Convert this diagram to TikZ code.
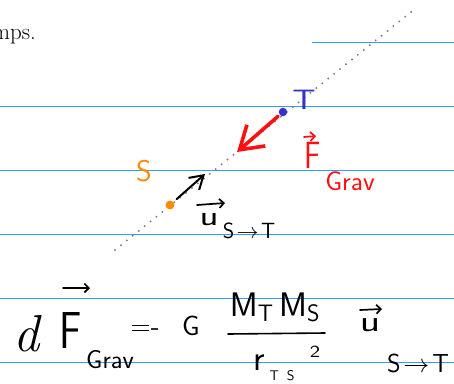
\RequirePackage{fix-cm}
\documentclass[tikz,border=0pt]{standalone}
\usepackage{amsmath}
\usepackage{graphicx}
\usetikzlibrary{arrows.meta}
\definecolor{ruleblue}{HTML}{3399FF}
\definecolor{penblue}{HTML}{3333CC}
\definecolor{penred}{HTML}{FF1010}
\definecolor{penorange}{HTML}{FF8C00}
\definecolor{dotgray}{HTML}{808080}
\newcommand{\fs}[1]{\fontsize{#1}{#1}\selectfont}
\begin{document}
\begin{tikzpicture}[x=1pt,y=-1pt,
  rule/.style={ruleblue, line width=1pt},
  hand/.style={inner sep=0pt, outer sep=0pt, font=\sffamily},
  massdot/.style={circle, inner sep=0pt, minimum size=#1},
  vecbar/.style={line width=1.7pt, line cap=round, line join=round,
    -{Straight Barb[length=4.5pt,width=9pt,line width=1.7pt]}},
]
\useasboundingbox (0,0) rectangle (454,383);
% ruled lines
\foreach \yy in {106,170,234,298,362} \draw[rule] (0,\yy) -- (454,\yy);
\draw[rule] (312,42) -- (454,42);
% clipped text from previous paragraph
\node[anchor=base east, inner sep=0pt, font=\fs{23}] (prev) at (36,39) {mps.};
% dotted line through S and T
\coordinate (dl1) at (115,250);
\coordinate (dl2) at (416,8);
\draw[dotgray, line width=2.2pt, line cap=round, dash pattern=on 0pt off 7.6pt] (dl1) -- (dl2);
% masses
\node[massdot=8.5pt, fill=penblue] (T) at (283,112) {};
\node[massdot=9pt, fill=penorange] (S) at (170,205) {};
\node[hand, text=penblue, font=\sffamily\fs{28}] (Tlab) at (304,100) {\scalebox{1.3}[1]{T}};
\node[hand, text=penorange, font=\sffamily\fs{30}] (Slab) at (144,171) {S};
% force arrow
\coordinate (ftip) at (237,152);
\draw[penred, line width=3.6pt, line cap=round, shorten <=2pt,
  -{Straight Barb[length=22pt,width=28pt,line width=3.6pt]}] (T) -- (ftip);
\node[hand, text=penred, anchor=base, font=\sffamily\fs{38}] (Flab) at (313,168) {\scalebox{0.8}[1]{F}};
\draw[penred, vecbar] ([xshift=-9pt,yshift=31pt]Flab.base) -- ([xshift=3pt,yshift=32pt]Flab.base);
\node[hand, text=penred, font=\sffamily\fs{27}] (Gravlab) at (350,181) {Grav};
% unit vector arrow
\coordinate (utip) at (205,174);
\draw[black, line width=2pt, line cap=round, shorten <=4pt,
  -{Straight Barb[length=13pt,width=16pt,line width=2pt]}] (S) -- (utip);
\node[hand, anchor=base, font=\sffamily\fs{28}] (ulab) at (209,225) {\scalebox{1.4}[1]{u}};
\draw[vecbar] ([xshift=-12pt,yshift=20pt]ulab.base) -- ([xshift=16pt,yshift=22pt]ulab.base);
\node[hand, font=\sffamily\fs{22}] (STlab) at (249,231) {$\mathsf{S}\!\to\!\mathsf{T}$};
% formula
\node[hand, font=\fs{52}] (donc) at (28,334) {\textit{d}};
\node[hand, anchor=base, font=\sffamily\fs{52}] (Fvec) at (71,348) {\scalebox{0.8}[1]{F}};
\draw[vecbar] ([xshift=-8pt,yshift=60pt]Fvec.base) -- ([xshift=19pt,yshift=60pt]Fvec.base);
\node[hand, font=\sffamily\fs{26}] (Grav) at (110,360) {Grav};
\node[hand, font=\sffamily\fs{28}] (eq) at (145,331) {=-};
\node[hand, font=\sffamily\fs{28}] (G) at (191,326) {G};
\node[hand, font=\sffamily\fs{34}] (num) at (275,307) {$\mathsf{M}_{\mathsf{T}}\,\mathsf{M}_{\mathsf{S}}$};
\coordinate (bar1) at (228,334);
\coordinate (bar2) at (325,333);
\draw[line width=1.6pt, line cap=round] (bar1) -- (bar2);
\node[hand, anchor=base, font=\sffamily\fs{36}] (r) at (259,370) {r};
\node[hand, font=\sffamily\fs{14}] (TS) at (282,376) {T\hspace{8pt}S};
\node[hand, font=\sffamily\fs{17}] (two) at (315,352) {\scalebox{1.3}[1]{2}};
\node[hand, anchor=base, font=\sffamily\fs{30}] (uvec) at (370,331) {\scalebox{1.4}[1]{u}};
\draw[vecbar] ([xshift=-10pt,yshift=21pt]uvec.base) -- ([xshift=12pt,yshift=22pt]uvec.base);
\node[hand, font=\sffamily\fs{26}] (ST) at (418,363) {$\mathsf{S}\!\to\!\mathsf{T}$};
\end{tikzpicture}
\end{document}
